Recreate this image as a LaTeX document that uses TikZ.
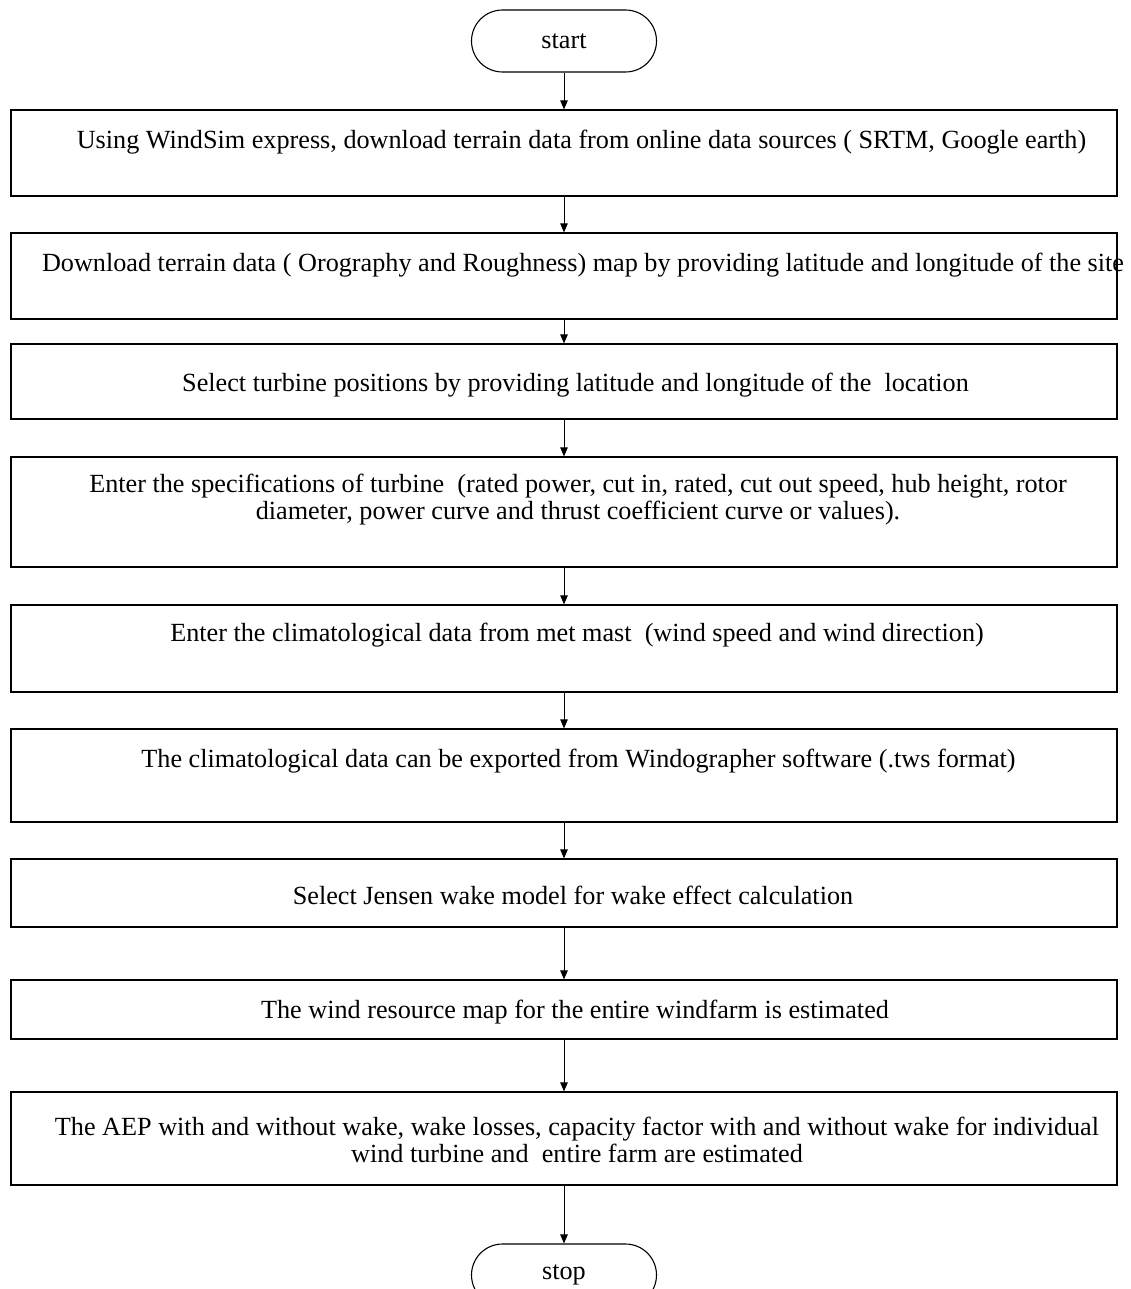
\documentclass[tikz,border=0pt]{standalone}
\usepackage{fontspec}
\setmainfont{Liberation Serif}
\usetikzlibrary{arrows.meta}
\begin{document}
\begin{tikzpicture}[x=1pt,y=-1pt,
  stepbox/.style={draw, line width=1.2pt, rectangle, minimum width=1106pt, inner sep=0pt},
  txt/.style={font=\fontsize{26.2}{27}\selectfont, align=center, inner sep=0pt},
  term/.style={draw, line width=1.1pt, rounded corners=31pt, minimum width=185pt, minimum height=62pt, inner sep=0pt, font=\fontsize{26.2}{27}\selectfont},
  flow/.style={-{Triangle[length=9pt,width=7.5pt]}, line width=0.9pt}]
\useasboundingbox (0,0) rectangle (1131,1289);
\clip (0,0) rectangle (1131,1289);
\fill[white] (0,0) rectangle (1131,1289);

\node[term] (start) at (564,41) {start};

\node[stepbox, minimum height=86pt] (b1) at (564,153) {};
\node[stepbox, minimum height=86pt] (b2) at (564,276) {};
\node[stepbox, minimum height=75pt] (b3) at (564,381.5) {};
\node[stepbox, minimum height=110pt] (b4) at (564,512) {};
\node[stepbox, minimum height=87pt] (b5) at (564,648.5) {};
\node[stepbox, minimum height=93pt] (b6) at (564,775.5) {};
\node[stepbox, minimum height=68pt] (b7) at (564,893) {};
\node[stepbox, minimum height=59pt] (b8) at (564,1009.5) {};
\node[stepbox, minimum height=93pt] (b9) at (564,1138.5) {};

\node[term] (stop) at (564,1275) {stop};

\node[txt] (t1) at (581.5,142) {Using WindSim express, download terrain data from online data sources ( SRTM, Google earth)};
\node[txt] (t2) at (583,265) {Download terrain data ( Orography and Roughness) map by providing latitude and longitude of the site};
\node[txt] (t3) at (575.5,385) {Select turbine positions by providing latitude and longitude of the\ \ location};
\node[txt] (t4) at (578,500) {Enter the specifications of turbine\ \ (rated power, cut in, rated, cut out speed, hub height, rotor\\diameter, power curve and thrust coefficient curve or values).};
\node[txt] (t5) at (577,635) {Enter the climatological data from met mast\ \ (wind speed and wind direction)};
\node[txt] (t6) at (578.5,761) {The climatological data can be exported from Windographer software (.tws format)};
\node[txt] (t7) at (573,895) {Select Jensen wake model for wake effect calculation};
\node[txt] (t8) at (575,1012) {The wind resource map for the entire windfarm is estimated};
\node[txt] (t9) at (577,1140) {The AEP with and without wake, wake losses, capacity factor with and without wake for individual\\wind turbine and\ \ entire farm are estimated};

\draw[flow] (start) -- (b1);
\draw[flow] (b1) -- (b2);
\draw[flow] (b2) -- (b3);
\draw[flow] (b3) -- (b4);
\draw[flow] (b4) -- (b5);
\draw[flow] (b5) -- (b6);
\draw[flow] (b6) -- (b7);
\draw[flow] (b7) -- (b8);
\draw[flow] (b8) -- (b9);
\draw[flow] (b9) -- (stop);
\end{tikzpicture}
\end{document}
